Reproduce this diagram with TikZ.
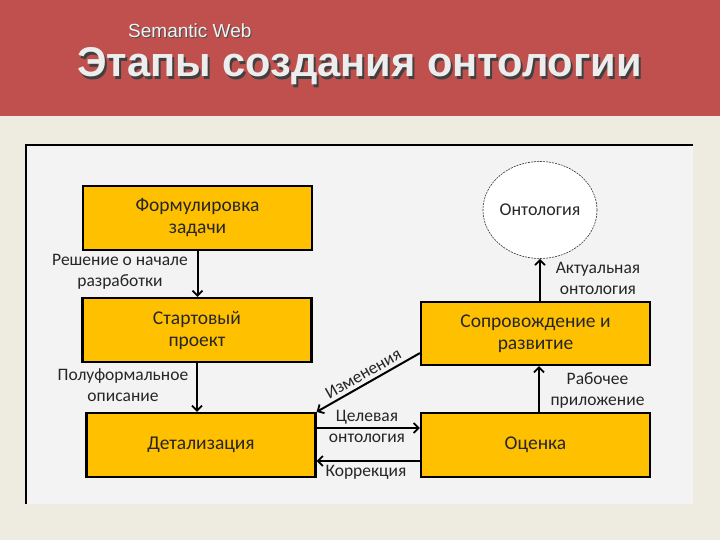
\documentclass[tikz,border=0pt]{standalone}
\usepackage{fontspec}
\setmainfont{Carlito}
\newfontfamily\titlefont{Liberation Sans}
\usetikzlibrary{arrows.meta,calc,shapes.geometric}
\definecolor{hdrred}{HTML}{C0504D}
\definecolor{pagebg}{HTML}{EEEBE1}
\definecolor{panelbg}{HTML}{F3F3F3}
\definecolor{boxfill}{HTML}{FFC000}
\definecolor{txtdark}{HTML}{262626}
\tikzset{
  stagebox/.style={draw=black, line width=2.2pt, fill=boxfill, minimum width=229pt, minimum height=64pt,
    align=center, text=txtdark, font=\fontsize{19.5}{22}\selectfont, inner sep=0pt},
  arr/.style={draw=black, line width=2pt, -{Straight Barb[length=5pt,width=10pt,line width=1.8pt]}},
  lbl/.style={align=center, text=black!85, font=\fontsize{17.5}{21}\selectfont, inner sep=0pt}
}
\begin{document}
\begin{tikzpicture}[x=1pt,y=-1pt]
\useasboundingbox (0,0) rectangle (720,540);
\fill[pagebg] (0,0) rectangle (720,540);
\fill[hdrred] (0,0) rectangle (720,116);
% title
\node[anchor=base west, text=black!70, font=\titlefont\fontsize{19}{21}\selectfont, inner sep=0pt] at (129,39) {Semantic Web};
\node[anchor=base west, text=white!95!black, font=\titlefont\fontsize{19}{21}\selectfont, inner sep=0pt] (sw) at (128,38) {Semantic Web};
\node[anchor=base west, text=black!75, font=\titlefont\bfseries\fontsize{41.6}{46}\selectfont, inner sep=0pt] at (79,80) {Этапы создания онтологии};
\node[anchor=base west, text=white!93!black, font=\titlefont\bfseries\fontsize{41.6}{46}\selectfont, inner sep=0pt] (title) at (77,77) {Этапы создания онтологии};
% panel
\fill[panelbg] (26,145) rectangle (693,504);
\draw[black, line width=1.2pt] (26,504) -- (26,145) -- (693,145);
% nodes
\node[stagebox] (b1) at (197.5,218) {Формулировка\\задачи};
\node[stagebox] (b2) at (197,330) {Стартовый\\проект};
\node[stagebox] (b3) at (201,445) {Детализация};
\node[stagebox] (b4) at (535.5,445) {Оценка};
\node[stagebox, minimum height=63pt] (b5) at (535.5,333.5) {Сопровождение и\\развитие};
\node[ellipse, draw=black!80, dashed, dash pattern=on 2pt off 1pt, line width=0.6pt, fill=white,
  minimum width=108pt, minimum height=97pt, inner sep=0pt, text=txtdark, font=\fontsize{18}{20}\selectfont] (ont) at (540,210) {Онтология};
% connectors
\draw[arr] (b1.south) -- (b1.south |- b2.north);
\node[lbl] at (120,272) {Решение о начале\\разработки};
\draw[arr] (b2.south) -- (b2.south |- b3.north);
\node[lbl] at (123,385) {Полуформальное\\описание};
\coordinate (d0) at ($(b5.south west)+(0,-13)$);
\draw[arr] (d0) -- node[sloped, above=3.5pt, lbl] {Изменения} (b3.north east);
\coordinate (c0) at ($(b3.east)+(0,-17)$);
\draw[arr] (c0) -- (c0 -| b4.west);
\node[lbl] at (367,426.5) {Целевая\\онтология};
\coordinate (k0) at ($(b4.west)+(0,16)$);
\draw[arr] (k0) -- (k0 -| b3.east);
\node[lbl, anchor=north] at (366,465) {Коррекция};
\coordinate (r0) at ($(b4.north)+(3.5,0)$);
\draw[arr] (r0) -- (r0 |- b5.south);
\node[lbl] at (597.5,390) {Рабочее\\приложение};
\coordinate (a0) at ($(b5.north)+(4.5,0)$);
\draw[arr] (a0) -- (ont.south);
\node[lbl] at (598,278) {Актуальная\\онтология};
\end{tikzpicture}
\end{document}
